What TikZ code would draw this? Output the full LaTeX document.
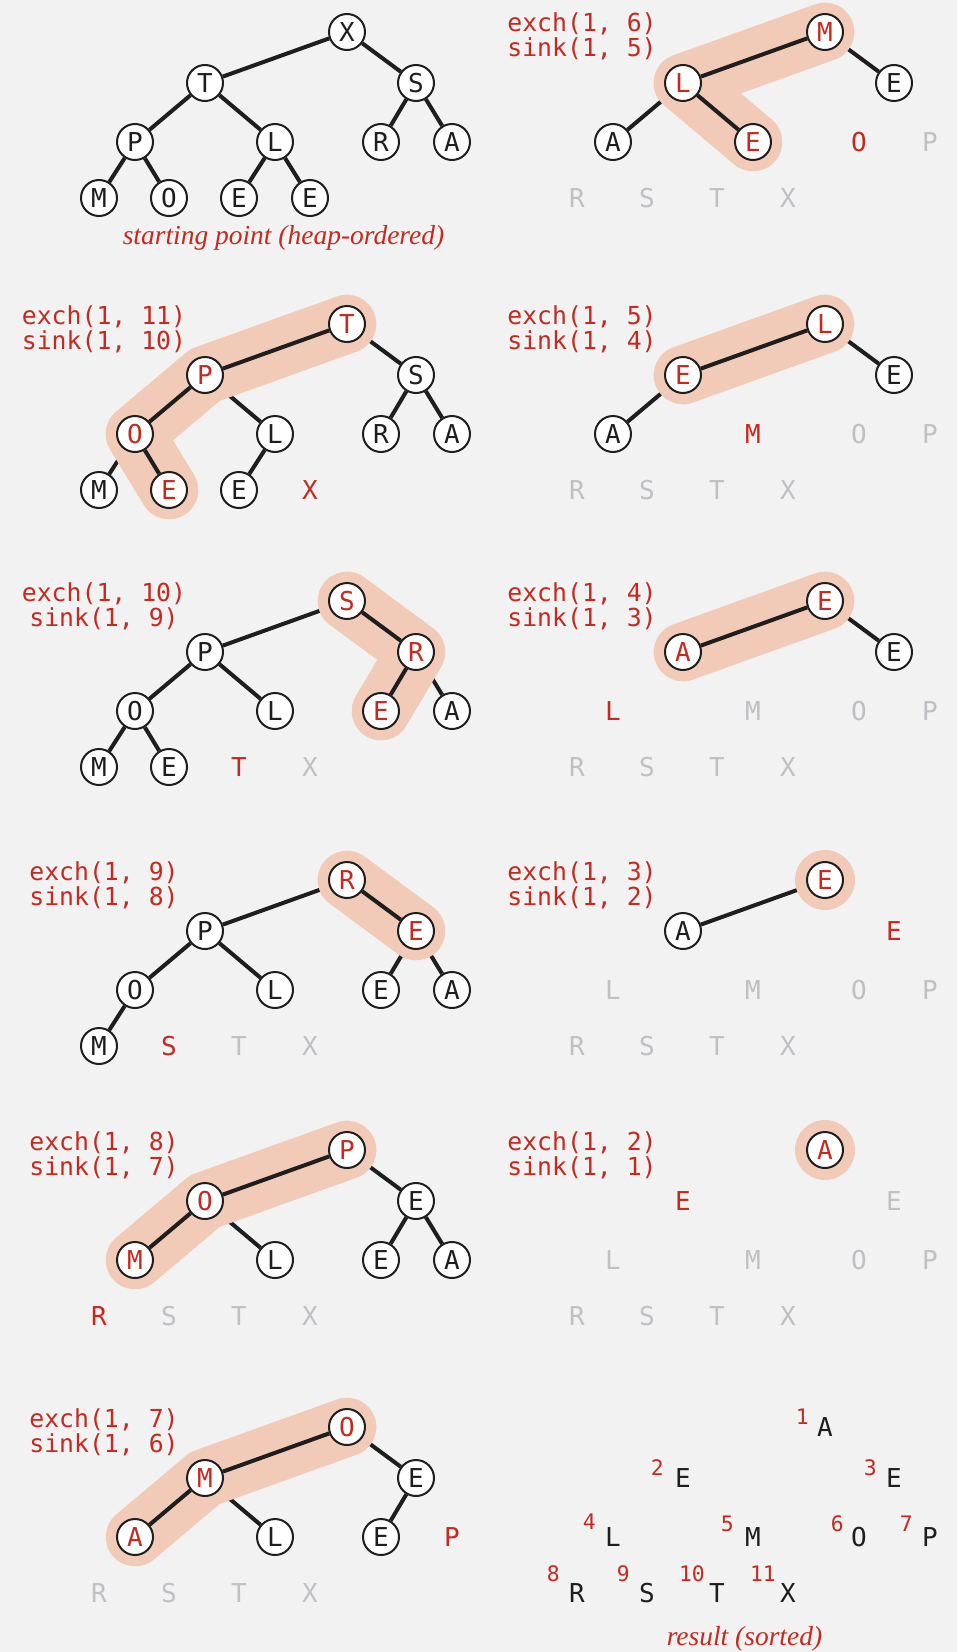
\documentclass[tikz,border=0pt]{standalone}
\usepackage{fontspec}
\newfontfamily\monof{DejaVu Sans Mono}
\newfontfamily\capfont{Liberation Serif}
\usetikzlibrary{calc}
\pgfdeclarelayer{bgl}\pgfdeclarelayer{back}\pgfdeclarelayer{mid}
\pgfsetlayers{bgl,back,mid,main}
\definecolor{bgc}{RGB}{242,242,242}
\definecolor{myred}{RGB}{196,42,32}
\definecolor{mygray}{RGB}{192,192,196}
\definecolor{hlc}{RGB}{242,203,184}
\definecolor{ink}{RGB}{30,30,30}
\tikzset{
 letr/.style={font=\monof\fontsize{19.5}{20}\selectfont, inner sep=0pt, text height=14.2pt, text depth=0pt},
 cb/.style={letr, circle, draw=ink, line width=1.5pt, fill=white, minimum size=27pt, text=ink},
 cr/.style={cb, text=myred},
 tr/.style={letr, text=myred},
 tg/.style={letr, text=mygray},
 tk/.style={letr, text=ink},
 tedge/.style={draw=ink, line width=3pt},
 hl/.style={draw=hlc, line width=44pt, line cap=round, line join=round},
 codetxt/.style={font=\monof\fontsize{18.6}{18.75}\selectfont, text=myred, anchor=base, inner sep=0pt},
 num/.style={font=\monof\fontsize{16}{16}\selectfont, text=myred, inner sep=0pt, text height=11.7pt, text depth=0pt, anchor=east},
 captext/.style={font=\capfont\itshape\fontsize{20.6}{21}\selectfont, text=myred, anchor=base, inner sep=0pt}
}
\newcommand\ed[2]{\draw[tedge] (#1) -- (#2);}
\begin{document}
\begin{tikzpicture}[x=0.75pt,y=-0.75pt]
\begin{pgfonlayer}{bgl}
\fill[bgc] (0,0) rectangle (957,1652);
\end{pgfonlayer}
\path[use as bounding box] (0,0) rectangle (957,1652);

% ---------- A1 ----------
\begin{scope}[shift={(0,32)}]
\node[cb] (A1r) at (347,0) {X};
\node[cb] (A1a) at (205,51) {T};
\node[cb] (A1b) at (416,51) {S};
\node[cb] (A1c) at (135,110) {P};
\node[cb] (A1d) at (275,110) {L};
\node[cb] (A1e) at (381,110) {R};
\node[cb] (A1f) at (452,110) {A};
\node[cb] (A1g) at (99,166) {M};
\node[cb] (A1h) at (169,166) {O};
\node[cb] (A1i) at (239,166) {E};
\node[cb] (A1j) at (310,166) {E};
\node[captext] (A1cap) at (283.5,212) {starting point (heap-ordered)};
\begin{pgfonlayer}{back}
\ed{A1r}{A1a}\ed{A1r}{A1b}\ed{A1a}{A1c}\ed{A1a}{A1d}\ed{A1b}{A1e}\ed{A1b}{A1f}
\ed{A1c}{A1g}\ed{A1c}{A1h}\ed{A1d}{A1i}\ed{A1d}{A1j}
\end{pgfonlayer}
\end{scope}

% ---------- B1 ----------
\begin{scope}[shift={(478,32)}]
\node[codetxt] (B1x) at (104,0) {exch(1, 6)};
\node[codetxt] (B1y) at (104,25) {sink(1, 5)};
\node[cr] (B1r) at (347,0) {M};
\node[cr] (B1a) at (205,51) {L};
\node[cb] (B1b) at (416,51) {E};
\node[cb] (B1c) at (135,110) {A};
\node[cr] (B1d) at (275,110) {E};
\node[tr] (B1e) at (381,110) {O};
\node[tg] (B1f) at (452,110) {P};
\node[tg] (B1g) at (99,166) {R};
\node[tg] (B1h) at (169,166) {S};
\node[tg] (B1i) at (239,166) {T};
\node[tg] (B1j) at (310,166) {X};
\begin{pgfonlayer}{back}
\ed{B1r}{B1b}\ed{B1a}{B1c}
\end{pgfonlayer}
\begin{pgfonlayer}{mid}
\draw[hl] (B1r.center) -- (B1a.center) -- (B1d.center);
\end{pgfonlayer}
\ed{B1r}{B1a}\ed{B1a}{B1d}
\end{scope}

% ---------- A2 ----------
\begin{scope}[shift={(0,324)}]
\node[codetxt] (A2x) at (104,0) {exch(1, 11)};
\node[codetxt] (A2y) at (104,25) {sink(1, 10)};
\node[cr] (A2r) at (347,0) {T};
\node[cr] (A2a) at (205,51) {P};
\node[cb] (A2b) at (416,51) {S};
\node[cr] (A2c) at (135,110) {O};
\node[cb] (A2d) at (275,110) {L};
\node[cb] (A2e) at (381,110) {R};
\node[cb] (A2f) at (452,110) {A};
\node[cb] (A2g) at (99,166) {M};
\node[cr] (A2h) at (169,166) {E};
\node[cb] (A2i) at (239,166) {E};
\node[tr] (A2j) at (310,166) {X};
\begin{pgfonlayer}{back}
\ed{A2r}{A2b}\ed{A2a}{A2d}\ed{A2b}{A2e}\ed{A2b}{A2f}\ed{A2c}{A2g}\ed{A2d}{A2i}
\end{pgfonlayer}
\begin{pgfonlayer}{mid}
\draw[hl] (A2r.center) -- (A2a.center) -- (A2c.center) -- (A2h.center);
\end{pgfonlayer}
\ed{A2r}{A2a}\ed{A2a}{A2c}\ed{A2c}{A2h}
\end{scope}

% ---------- B2 ----------
\begin{scope}[shift={(478,324)}]
\node[codetxt] (B2x) at (104,0) {exch(1, 5)};
\node[codetxt] (B2y) at (104,25) {sink(1, 4)};
\node[cr] (B2r) at (347,0) {L};
\node[cr] (B2a) at (205,51) {E};
\node[cb] (B2b) at (416,51) {E};
\node[cb] (B2c) at (135,110) {A};
\node[tr] (B2d) at (275,110) {M};
\node[tg] (B2e) at (381,110) {O};
\node[tg] (B2f) at (452,110) {P};
\node[tg] (B2g) at (99,166) {R};
\node[tg] (B2h) at (169,166) {S};
\node[tg] (B2i) at (239,166) {T};
\node[tg] (B2j) at (310,166) {X};
\begin{pgfonlayer}{back}
\ed{B2r}{B2b}\ed{B2a}{B2c}
\end{pgfonlayer}
\begin{pgfonlayer}{mid}
\draw[hl] (B2r.center) -- (B2a.center);
\end{pgfonlayer}
\ed{B2r}{B2a}
\end{scope}

% ---------- A3 ----------
\begin{scope}[shift={(0,601)}]
\node[codetxt] (A3x) at (104,0) {exch(1, 10)};
\node[codetxt] (A3y) at (104,25) {sink(1, 9)};
\node[cr] (A3r) at (347,0) {S};
\node[cb] (A3a) at (205,51) {P};
\node[cr] (A3b) at (416,51) {R};
\node[cb] (A3c) at (135,110) {O};
\node[cb] (A3d) at (275,110) {L};
\node[cr] (A3e) at (381,110) {E};
\node[cb] (A3f) at (452,110) {A};
\node[cb] (A3g) at (99,166) {M};
\node[cb] (A3h) at (169,166) {E};
\node[tr] (A3i) at (239,166) {T};
\node[tg] (A3j) at (310,166) {X};
\begin{pgfonlayer}{back}
\ed{A3r}{A3a}\ed{A3a}{A3c}\ed{A3a}{A3d}\ed{A3b}{A3f}\ed{A3c}{A3g}\ed{A3c}{A3h}
\end{pgfonlayer}
\begin{pgfonlayer}{mid}
\draw[hl] (A3r.center) -- (A3b.center) -- (A3e.center);
\end{pgfonlayer}
\ed{A3r}{A3b}\ed{A3b}{A3e}
\end{scope}

% ---------- B3 ----------
\begin{scope}[shift={(478,601)}]
\node[codetxt] (B3x) at (104,0) {exch(1, 4)};
\node[codetxt] (B3y) at (104,25) {sink(1, 3)};
\node[cr] (B3r) at (347,0) {E};
\node[cr] (B3a) at (205,51) {A};
\node[cb] (B3b) at (416,51) {E};
\node[tr] (B3c) at (135,110) {L};
\node[tg] (B3d) at (275,110) {M};
\node[tg] (B3e) at (381,110) {O};
\node[tg] (B3f) at (452,110) {P};
\node[tg] (B3g) at (99,166) {R};
\node[tg] (B3h) at (169,166) {S};
\node[tg] (B3i) at (239,166) {T};
\node[tg] (B3j) at (310,166) {X};
\begin{pgfonlayer}{back}
\ed{B3r}{B3b}
\end{pgfonlayer}
\begin{pgfonlayer}{mid}
\draw[hl] (B3r.center) -- (B3a.center);
\end{pgfonlayer}
\ed{B3r}{B3a}
\end{scope}

% ---------- A4 ----------
\begin{scope}[shift={(0,880)}]
\node[codetxt] (A4x) at (104,0) {exch(1, 9)};
\node[codetxt] (A4y) at (104,25) {sink(1, 8)};
\node[cr] (A4r) at (347,0) {R};
\node[cb] (A4a) at (205,51) {P};
\node[cr] (A4b) at (416,51) {E};
\node[cb] (A4c) at (135,110) {O};
\node[cb] (A4d) at (275,110) {L};
\node[cb] (A4e) at (381,110) {E};
\node[cb] (A4f) at (452,110) {A};
\node[cb] (A4g) at (99,166) {M};
\node[tr] (A4h) at (169,166) {S};
\node[tg] (A4i) at (239,166) {T};
\node[tg] (A4j) at (310,166) {X};
\begin{pgfonlayer}{back}
\ed{A4r}{A4a}\ed{A4a}{A4c}\ed{A4a}{A4d}\ed{A4b}{A4e}\ed{A4b}{A4f}\ed{A4c}{A4g}
\end{pgfonlayer}
\begin{pgfonlayer}{mid}
\draw[hl] (A4r.center) -- (A4b.center);
\end{pgfonlayer}
\ed{A4r}{A4b}
\end{scope}

% ---------- B4 ----------
\begin{scope}[shift={(478,880)}]
\node[codetxt] (B4x) at (104,0) {exch(1, 3)};
\node[codetxt] (B4y) at (104,25) {sink(1, 2)};
\node[cr] (B4r) at (347,0) {E};
\node[cb] (B4a) at (205,51) {A};
\node[tr] (B4b) at (416,51) {E};
\node[tg] (B4c) at (135,110) {L};
\node[tg] (B4d) at (275,110) {M};
\node[tg] (B4e) at (381,110) {O};
\node[tg] (B4f) at (452,110) {P};
\node[tg] (B4g) at (99,166) {R};
\node[tg] (B4h) at (169,166) {S};
\node[tg] (B4i) at (239,166) {T};
\node[tg] (B4j) at (310,166) {X};
\begin{pgfonlayer}{back}
\ed{B4r}{B4a}
\end{pgfonlayer}
\begin{pgfonlayer}{mid}
\fill[hlc] (B4r.center) circle[radius=22.5pt];
\end{pgfonlayer}
\end{scope}

% ---------- A5 ----------
\begin{scope}[shift={(0,1150)}]
\node[codetxt] (A5x) at (104,0) {exch(1, 8)};
\node[codetxt] (A5y) at (104,25) {sink(1, 7)};
\node[cr] (A5r) at (347,0) {P};
\node[cr] (A5a) at (205,51) {O};
\node[cb] (A5b) at (416,51) {E};
\node[cr] (A5c) at (135,110) {M};
\node[cb] (A5d) at (275,110) {L};
\node[cb] (A5e) at (381,110) {E};
\node[cb] (A5f) at (452,110) {A};
\node[tr] (A5g) at (99,166) {R};
\node[tg] (A5h) at (169,166) {S};
\node[tg] (A5i) at (239,166) {T};
\node[tg] (A5j) at (310,166) {X};
\begin{pgfonlayer}{back}
\ed{A5r}{A5b}\ed{A5a}{A5d}\ed{A5b}{A5e}\ed{A5b}{A5f}
\end{pgfonlayer}
\begin{pgfonlayer}{mid}
\draw[hl] (A5r.center) -- (A5a.center) -- (A5c.center);
\end{pgfonlayer}
\ed{A5r}{A5a}\ed{A5a}{A5c}
\end{scope}

% ---------- B5 ----------
\begin{scope}[shift={(478,1150)}]
\node[codetxt] (B5x) at (104,0) {exch(1, 2)};
\node[codetxt] (B5y) at (104,25) {sink(1, 1)};
\node[cr] (B5r) at (347,0) {A};
\node[tr] (B5a) at (205,51) {E};
\node[tg] (B5b) at (416,51) {E};
\node[tg] (B5c) at (135,110) {L};
\node[tg] (B5d) at (275,110) {M};
\node[tg] (B5e) at (381,110) {O};
\node[tg] (B5f) at (452,110) {P};
\node[tg] (B5g) at (99,166) {R};
\node[tg] (B5h) at (169,166) {S};
\node[tg] (B5i) at (239,166) {T};
\node[tg] (B5j) at (310,166) {X};
\begin{pgfonlayer}{mid}
\fill[hlc] (B5r.center) circle[radius=22.5pt];
\end{pgfonlayer}
\end{scope}

% ---------- A6 ----------
\begin{scope}[shift={(0,1427)}]
\node[codetxt] (A6x) at (104,0) {exch(1, 7)};
\node[codetxt] (A6y) at (104,25) {sink(1, 6)};
\node[cr] (A6r) at (347,0) {O};
\node[cr] (A6a) at (205,51) {M};
\node[cb] (A6b) at (416,51) {E};
\node[cr] (A6c) at (135,110) {A};
\node[cb] (A6d) at (275,110) {L};
\node[cb] (A6e) at (381,110) {E};
\node[tr] (A6f) at (452,110) {P};
\node[tg] (A6g) at (99,166) {R};
\node[tg] (A6h) at (169,166) {S};
\node[tg] (A6i) at (239,166) {T};
\node[tg] (A6j) at (310,166) {X};
\begin{pgfonlayer}{back}
\ed{A6r}{A6b}\ed{A6a}{A6d}\ed{A6b}{A6e}
\end{pgfonlayer}
\begin{pgfonlayer}{mid}
\draw[hl] (A6r.center) -- (A6a.center) -- (A6c.center);
\end{pgfonlayer}
\ed{A6r}{A6a}\ed{A6a}{A6c}
\end{scope}

% ---------- B6 (result) ----------
\begin{scope}[shift={(478,1427)}]
\node[tk] (B6r) at (347,0) {A};
\node[tk] (B6a) at (205,51) {E};
\node[tk] (B6b) at (416,51) {E};
\node[tk] (B6c) at (135,110) {L};
\node[tk] (B6d) at (275,110) {M};
\node[tk] (B6e) at (381,110) {O};
\node[tk] (B6f) at (452,110) {P};
\node[tk] (B6g) at (99,166) {R};
\node[tk] (B6h) at (169,166) {S};
\node[tk] (B6i) at (239,166) {T};
\node[tk] (B6j) at (310,166) {X};
\node[num] (N1) at ($(B6r.center)+(-16,-10)$) {1};
\node[num] (N2) at ($(B6a.center)+(-19,-10)$) {2};
\node[num] (N3) at ($(B6b.center)+(-17,-10)$) {3};
\node[num] (N4) at ($(B6c.center)+(-17,-15)$) {4};
\node[num] (N5) at ($(B6d.center)+(-19,-13)$) {5};
\node[num] (N6) at ($(B6e.center)+(-15,-13)$) {6};
\node[num] (N7) at ($(B6f.center)+(-17,-13)$) {7};
\node[num] (N8) at ($(B6g.center)+(-17,-19)$) {8};
\node[num] (N9) at ($(B6h.center)+(-17,-19)$) {9};
\node[num] (N10) at ($(B6i.center)+(-12,-19)$) {10};
\node[num] (N11) at ($(B6j.center)+(-12,-19)$) {11};
\node[captext] (B6cap) at (266.5,218) {result (sorted)};
\end{scope}
\end{tikzpicture}
\end{document}
